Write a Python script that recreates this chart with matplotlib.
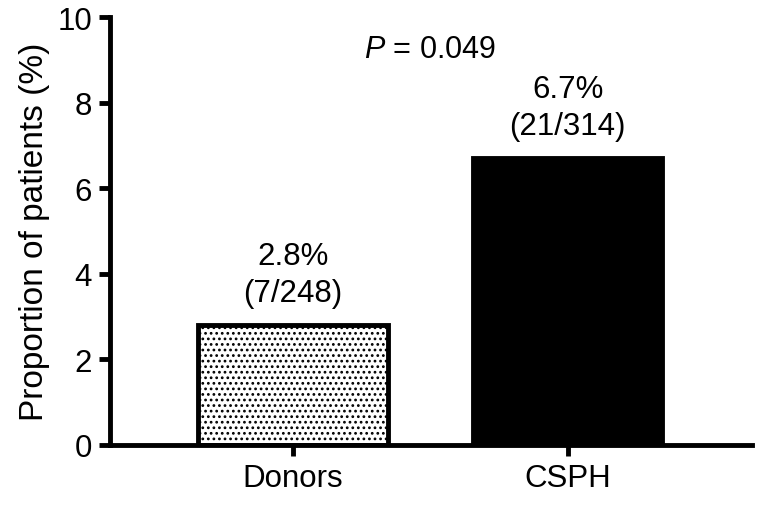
import matplotlib.pyplot as plt

plt.rcParams['font.family'] = ['Liberation Sans', 'DejaVu Sans']
plt.rcParams['mathtext.fontset'] = 'custom'
plt.rcParams['mathtext.it'] = 'Liberation Sans:italic'
plt.rcParams['mathtext.rm'] = 'Liberation Sans'
plt.rcParams['hatch.linewidth'] = 1.2

# data
groups = ["Donors", "CSPH"]
proportions = [2.8, 6.7]
bar_labels = ["2.8%\n(7/248)", "6.7%\n(21/314)"]
p_text = "$P$ = 0.049"

fig = plt.figure(figsize=(7.57, 5.06), dpi=100)
ax = fig.add_axes([0.1453, 0.1186, 0.8477, 0.8458])

x = list(range(len(groups)))
bars = ax.bar(x, proportions, width=0.69, color=["white", "black"],
              edgecolor="black", linewidth=3.5)
bars[0].set_hatch("...")

for xi, val, lab in zip(x, proportions, bar_labels):
    ax.text(xi, val + 0.4, lab, ha="center", va="bottom", fontsize=22.5,
            linespacing=1.3)

ax.text(0.5, 9.25, p_text, ha="center", va="center", fontsize=22)

ax.set_xlim(-0.665, 1.67)
ax.set_ylim(0, 10)
ax.set_yticks([0, 2, 4, 6, 8, 10])
ax.set_xticks(x)
ax.set_xticklabels(groups)
ax.set_ylabel("Proportion of patients (%)", fontsize=24, labelpad=5)

for s in ["top", "right"]:
    ax.spines[s].set_visible(False)
for s in ["left", "bottom"]:
    ax.spines[s].set_linewidth(3.5)
ax.tick_params(axis="both", width=3.5, length=8, labelsize=22.5, pad=5)

fig.savefig("out.png", dpi=100)
